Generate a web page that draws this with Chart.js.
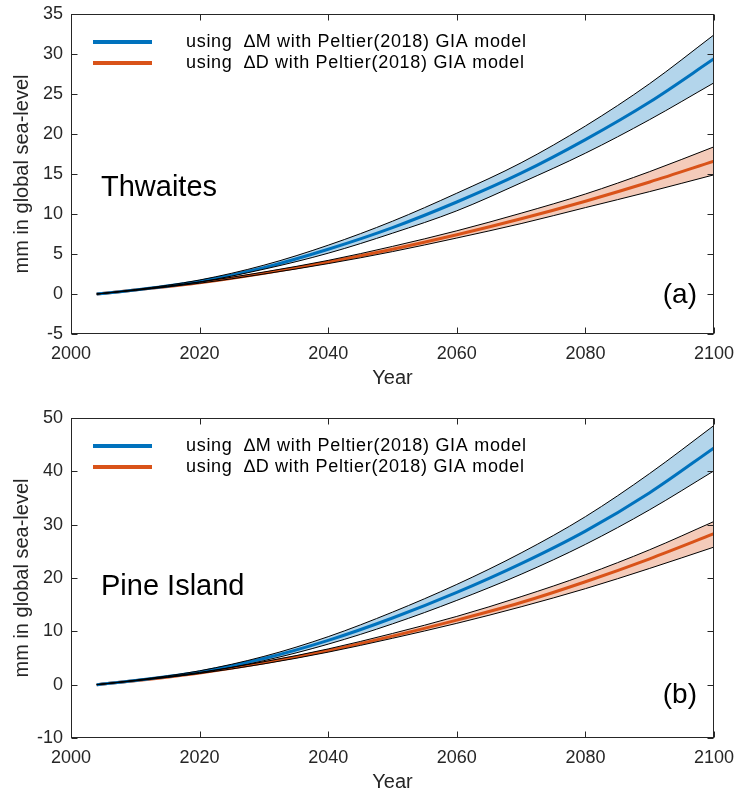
<!DOCTYPE html>
<html>
<head>
<meta charset="utf-8">
<script src="https://cdn.jsdelivr.net/npm/chart.js@4.4.1/dist/chart.umd.min.js"></script>
<style>
  body { margin: 0; background: #fff; }
  canvas { display: block; }
</style>
</head>
<body>
<canvas id="thw" width="734" height="400"></canvas>
<canvas id="pig" width="734" height="395"></canvas>
<script>
// ---- data (mm of global sea-level) ----
const years = [2004, 2010, 2020, 2030, 2040, 2050, 2060, 2070, 2080, 2090, 2100];

// Thwaites, using dM
const thwM   = [0, 0.5, 1.6, 3.3, 5.6, 8.3, 11.5, 15.1, 19.3, 24.0, 29.4];
const thwMHi = [0, 0.55, 1.75, 3.6, 6.1, 9.1, 12.6, 16.4, 21.0, 26.3, 32.4];
const thwMLo = [0, 0.45, 1.5, 3.1, 5.1, 7.6, 10.4, 13.9, 17.6, 21.8, 26.4];
// Thwaites, using dD
const thwD   = [0, 0.5, 1.4, 2.6, 4.0, 5.6, 7.4, 9.4, 11.6, 14.0, 16.6];
const thwDHi = [0, 0.52, 1.5, 2.75, 4.2, 5.95, 7.9, 10.1, 12.5, 15.3, 18.4];
const thwDLo = [0, 0.48, 1.35, 2.5, 3.8, 5.3, 7.0, 8.8, 10.8, 12.8, 14.9];

// Pine Island, using dM
const pigM   = [0, 0.8, 2.4, 4.9, 8.3, 12.5, 17.3, 22.7, 28.8, 36.0, 44.4];
const pigMHi = [0, 0.85, 2.6, 5.3, 9.0, 13.6, 18.8, 24.7, 31.5, 39.6, 48.6];
const pigMLo = [0, 0.75, 2.2, 4.5, 7.6, 11.4, 15.8, 20.7, 26.3, 32.8, 40.1];
// Pine Island, using dD
const pigD   = [0, 0.75, 2.2, 4.1, 6.4, 9.1, 12.1, 15.4, 19.3, 23.6, 28.3];
const pigDHi = [0, 0.78, 2.3, 4.3, 6.7, 9.6, 12.8, 16.5, 20.6, 25.3, 30.6];
const pigDLo = [0, 0.72, 2.1, 3.9, 6.1, 8.7, 11.5, 14.6, 18.0, 21.8, 25.8];

const labelM = 'using  \u2206M with Peltier(2018) GIA model';
const labelD = 'using  \u2206D with Peltier(2018) GIA model';

const C = {
  blue: '#0072BD',
  orange: '#D95319',
  blueBand: '#b3d5eb',
  orangeBand: '#f4cbba',
  axis: '#262626'
};
const FONT = "'Liberation Sans', Arial, Helvetica, sans-serif";

const pts = arr => arr.map((v, i) => ({ x: years[i], y: v }));

function line(data, color, label, order) {
  return {
    label, data: pts(data), borderColor: color, borderWidth: 3,
    pointRadius: 0, fill: false, order, cubicInterpolationMode: 'monotone'
  };
}
function edge(data, fill, bg, order) {
  return {
    data: pts(data), borderColor: '#000', borderWidth: 1, backgroundColor: bg,
    pointRadius: 0, fill, order, cubicInterpolationMode: 'monotone'
  };
}

// box, inward ticks, legend and panel labels
const frame = {
  id: 'frame',
  afterDatasetsDraw(chart, args, o) {
    const { ctx, chartArea: a, scales: { x, y } } = chart;
    ctx.save();
    ctx.strokeStyle = C.axis;
    ctx.lineWidth = 1;
    const L = a.left + 0.5, R = a.right - 0.5, T = a.top + 0.5, B = a.bottom - 0.5;
    ctx.strokeRect(L, T, R - L, B - T);
    ctx.beginPath();
    x.ticks.forEach(t => {
      const px = Math.round(x.getPixelForValue(t.value)) + 0.5;
      ctx.moveTo(px, B); ctx.lineTo(px, B - 6);
      ctx.moveTo(px, T); ctx.lineTo(px, T + 6);
    });
    y.ticks.forEach(t => {
      const py = Math.round(y.getPixelForValue(t.value)) + 0.5;
      ctx.moveTo(L, py); ctx.lineTo(L + 6, py);
      ctx.moveTo(R, py); ctx.lineTo(R - 6, py);
    });
    ctx.stroke();

    // legend
    const items = chart.data.datasets.filter(d => d.label);
    ctx.font = '18px ' + FONT;
    ctx.letterSpacing = '0.7px';
    ctx.textBaseline = 'middle';
    ctx.fillStyle = '#000';
    items.forEach((d, i) => {
      const ly = o.legendY + i * 21;
      ctx.strokeStyle = d.borderColor;
      ctx.lineWidth = 4;
      ctx.beginPath();
      ctx.moveTo(93, ly); ctx.lineTo(152, ly);
      ctx.stroke();
      ctx.fillText(d.label, 186, ly);
    });
    ctx.letterSpacing = '0px';

    ctx.font = '29px ' + FONT;
    ctx.fillText(o.name, 101, o.nameY);
    ctx.textAlign = 'right';
    ctx.font = '28px ' + FONT;
    ctx.fillText(o.tag, 697, o.tagY);
    ctx.restore();
  }
};

function makeChart(id, sets, yMin, yMax, yStep, opt) {
  return new Chart(document.getElementById(id), {
    type: 'line',
    data: { datasets: sets },
    plugins: [frame],
    options: {
      responsive: false,
      devicePixelRatio: 1,
      animation: false,
      layout: { padding: { left: 0, top: opt.top, right: 20, bottom: 0 } },
      plugins: {
        legend: { display: false },
        tooltip: { enabled: false },
        filler: { drawTime: 'beforeDatasetsDraw' },
        frame: opt.frame
      },
      scales: {
        x: {
          type: 'linear', min: 2000, max: 2100,
          grid: { display: false, drawTicks: false },
          border: { display: false },
          ticks: {
            stepSize: 20, padding: 9, color: C.axis, maxRotation: 0,
            font: { family: FONT, size: 18 },
            callback: v => String(v)
          },
          title: { display: true, text: 'Year', color: C.axis, font: { family: FONT, size: 20 }, padding: { top: 0, bottom: opt.titlePad } },
          afterFit: s => { s.height = opt.xH; s.paddingLeft = 0; s.paddingRight = 0; }
        },
        y: {
          min: yMin, max: yMax,
          grid: { display: false, drawTicks: false },
          border: { display: false },
          ticks: { stepSize: yStep, padding: 8, color: C.axis, font: { family: FONT, size: 18 } },
          title: { display: true, text: 'mm in global sea-level', color: C.axis, font: { family: FONT, size: 20 }, padding: { top: 10, bottom: 0 } },
          afterFit: s => { s.width = 71; s.paddingTop = 0; s.paddingBottom = 0; }
        }
      }
    }
  });
}

// fills are drawn first; band edges sit on top of the centre lines
function panelSets(m, mLo, mHi, d, dLo, dHi) {
  return [
    line(m, C.blue, labelM, 2),
    line(d, C.orange, labelD, 3),
    edge(mLo, false, C.blueBand, 0),
    edge(mHi, 2, C.blueBand, 0),
    edge(dLo, false, C.orangeBand, 1),
    edge(dHi, 4, C.orangeBand, 1)
  ];
}

makeChart('thw', panelSets(thwM, thwMLo, thwMHi, thwD, thwDLo, thwDHi), -5, 35, 5, {
  top: 14, xH: 66, titlePad: 10,
  frame: { legendY: 42, name: 'Thwaites', nameY: 188, tag: '(a)', tagY: 295 }
});
makeChart('pig', panelSets(pigM, pigMLo, pigMHi, pigD, pigDLo, pigDHi), -10, 50, 10, {
  top: 18, xH: 57, titlePad: 1,
  frame: { legendY: 46, name: 'Pine Island', nameY: 187, tag: '(b)', tagY: 295 }
});
</script>
</body>
</html>
